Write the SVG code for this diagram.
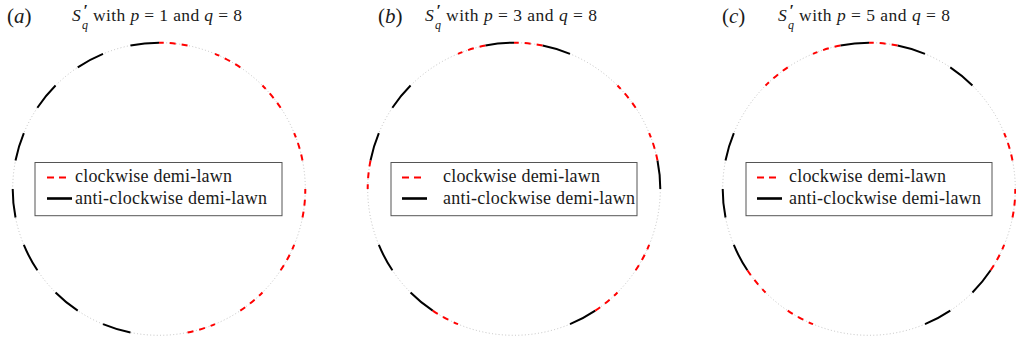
<svg xmlns="http://www.w3.org/2000/svg" width="1016" height="340" viewBox="0 0 1016 340">
<style>
text{font-family:"Liberation Serif","Times New Roman",serif;fill:#1a1a1a}
.it{font-style:italic}
.lab{font-size:21px}
.ttl{font-size:17.5px}
.pr{font-size:16px;font-weight:bold}
.sub{font-size:12px;font-style:italic}
.leg{font-size:18px}
.guide{fill:none;stroke:#b4b4b4;stroke-width:0.8;stroke-dasharray:1 2.3}
.acw{fill:none;stroke:#000;stroke-width:2}
.cw{fill:none;stroke:#f00;stroke-width:2;stroke-dasharray:6 6}
.box{fill:#fff;stroke:#555;stroke-width:1}
.lcw{fill:none;stroke:#f00;stroke-width:2.2;stroke-dasharray:7 5}
.lacw{fill:none;stroke:#000;stroke-width:2.6}
</style>
<defs>
<path id="s0" d="M146.3 0A146.3 146.3 0 0 0 143.49 -28.54"/>
<path id="s1" d="M143.49 -28.54A146.3 146.3 0 0 0 135.16 -55.99"/>
<path id="s3" d="M121.64 -81.28A146.3 146.3 0 0 0 103.45 -103.45"/>
<path id="s4" d="M103.45 -103.45A146.3 146.3 0 0 0 81.28 -121.64"/>
<path id="s5" d="M81.28 -121.64A146.3 146.3 0 0 0 55.99 -135.16"/>
<path id="s6" d="M55.99 -135.16A146.3 146.3 0 0 0 28.54 -143.49"/>
<path id="s7" d="M28.54 -143.49A146.3 146.3 0 0 0 0 -146.3"/>
<path id="s8" d="M0 -146.3A146.3 146.3 0 0 0 -28.54 -143.49"/>
<path id="s9" d="M-28.54 -143.49A146.3 146.3 0 0 0 -55.99 -135.16"/>
<path id="s10" d="M-55.99 -135.16A146.3 146.3 0 0 0 -81.28 -121.64"/>
<path id="s11" d="M-81.28 -121.64A146.3 146.3 0 0 0 -103.45 -103.45"/>
<path id="s12" d="M-103.45 -103.45A146.3 146.3 0 0 0 -121.64 -81.28"/>
<path id="s14" d="M-135.16 -55.99A146.3 146.3 0 0 0 -143.49 -28.54"/>
<path id="s15" d="M-143.49 -28.54A146.3 146.3 0 0 0 -146.3 0"/>
<path id="s16" d="M-146.3 0A146.3 146.3 0 0 0 -143.49 28.54"/>
<path id="s18" d="M-135.16 55.99A146.3 146.3 0 0 0 -121.64 81.28"/>
<path id="s19" d="M-121.64 81.28A146.3 146.3 0 0 0 -103.45 103.45"/>
<path id="s20" d="M-103.45 103.45A146.3 146.3 0 0 0 -81.28 121.64"/>
<path id="s21" d="M-81.28 121.64A146.3 146.3 0 0 0 -55.99 135.16"/>
<path id="s22" d="M-55.99 135.16A146.3 146.3 0 0 0 -28.54 143.49"/>
<path id="s25" d="M28.54 143.49A146.3 146.3 0 0 0 55.99 135.16"/>
<path id="s26" d="M55.99 135.16A146.3 146.3 0 0 0 81.28 121.64"/>
<path id="s27" d="M81.28 121.64A146.3 146.3 0 0 0 103.45 103.45"/>
<path id="s28" d="M103.45 103.45A146.3 146.3 0 0 0 121.64 81.28"/>
<path id="s29" d="M121.64 81.28A146.3 146.3 0 0 0 135.16 55.99"/>
<path id="s31" d="M143.49 28.54A146.3 146.3 0 0 0 146.3 0"/>
</defs>

<g id="fig-a">
<text class="lab" x="7" y="23">(<tspan class="it">a</tspan>)</text>
<g id="title-a">
<text class="ttl it" x="72" y="21">S</text>
<text class="pr" x="83.5" y="15.5">′</text>
<text class="sub" x="82" y="28.5">q</text>
<text class="ttl" x="93" y="21" textLength="149">with <tspan class="it">p</tspan> = 1 and <tspan class="it">q</tspan> = 8</text>
</g>
<g transform="translate(159,189)">
<circle class="guide" r="146.3"/>
<use href="#s8" class="acw"/><use href="#s10" class="acw"/><use href="#s12" class="acw"/><use href="#s14" class="acw"/><use href="#s16" class="acw"/><use href="#s18" class="acw"/><use href="#s20" class="acw"/><use href="#s22" class="acw"/>
<use href="#s7" class="cw"/><use href="#s5" class="cw"/><use href="#s3" class="cw"/><use href="#s1" class="cw"/><use href="#s31" class="cw"/><use href="#s29" class="cw"/><use href="#s27" class="cw"/><use href="#s25" class="cw"/>
</g>
<g id="legend-a">
<rect class="box" x="35" y="162.5" width="247" height="53.2"/>
<line class="lcw" x1="47" y1="177.5" x2="66" y2="177.5"/>
<line class="lacw" x1="47" y1="198.5" x2="72" y2="198.5"/>
<text class="leg" x="75" y="181.5" textLength="157">clockwise demi-lawn</text>
<text class="leg" x="75" y="204" textLength="192">anti-clockwise demi-lawn</text>
</g>
</g>

<g id="fig-b">
<text class="lab" x="378" y="23">(<tspan class="it">b</tspan>)</text>
<g id="title-b">
<text class="ttl it" x="425" y="21">S</text>
<text class="pr" x="436.5" y="15.5">′</text>
<text class="sub" x="435" y="28.5">q</text>
<text class="ttl" x="446" y="21" textLength="151">with <tspan class="it">p</tspan> = 3 and <tspan class="it">q</tspan> = 8</text>
</g>
<g transform="translate(514,189)">
<circle class="guide" r="146.3"/>
<use href="#s8" class="acw"/><use href="#s14" class="acw"/><use href="#s20" class="acw"/><use href="#s26" class="acw"/><use href="#s0" class="acw"/><use href="#s6" class="acw"/><use href="#s12" class="acw"/><use href="#s18" class="acw"/>
<use href="#s7" class="cw"/><use href="#s1" class="cw"/><use href="#s27" class="cw"/><use href="#s21" class="cw"/><use href="#s15" class="cw"/><use href="#s9" class="cw"/><use href="#s3" class="cw"/><use href="#s29" class="cw"/>
</g>
<g id="legend-b">
<rect class="box" x="391" y="162.5" width="246" height="53.2"/>
<line class="lcw" x1="402" y1="177.5" x2="421" y2="177.5"/>
<line class="lacw" x1="402" y1="198.5" x2="427" y2="198.5"/>
<text class="leg" x="443" y="181.5" textLength="157">clockwise demi-lawn</text>
<text class="leg" x="443" y="204" textLength="192">anti-clockwise demi-lawn</text>
</g>
</g>

<g id="fig-c">
<text class="lab" x="722" y="23">(<tspan class="it">c</tspan>)</text>
<g id="title-c">
<text class="ttl it" x="778" y="21">S</text>
<text class="pr" x="789.5" y="15.5">′</text>
<text class="sub" x="788" y="28.5">q</text>
<text class="ttl" x="799" y="21" textLength="151">with <tspan class="it">p</tspan> = 5 and <tspan class="it">q</tspan> = 8</text>
</g>
<g transform="translate(869,189)">
<circle class="guide" r="146.3"/>
<use href="#s8" class="acw"/><use href="#s18" class="acw"/><use href="#s28" class="acw"/><use href="#s6" class="acw"/><use href="#s16" class="acw"/><use href="#s26" class="acw"/><use href="#s4" class="acw"/><use href="#s14" class="acw"/>
<use href="#s7" class="cw"/><use href="#s29" class="cw"/><use href="#s19" class="cw"/><use href="#s9" class="cw"/><use href="#s31" class="cw"/><use href="#s21" class="cw"/><use href="#s11" class="cw"/><use href="#s1" class="cw"/>
</g>
<g id="legend-c">
<rect class="box" x="746" y="162.5" width="246" height="53.2"/>
<line class="lcw" x1="757" y1="177.5" x2="776" y2="177.5"/>
<line class="lacw" x1="757" y1="198.5" x2="782" y2="198.5"/>
<text class="leg" x="789" y="181.5" textLength="157">clockwise demi-lawn</text>
<text class="leg" x="789" y="204" textLength="192">anti-clockwise demi-lawn</text>
</g>
</g>
<g id="connectors"/>
</svg>
